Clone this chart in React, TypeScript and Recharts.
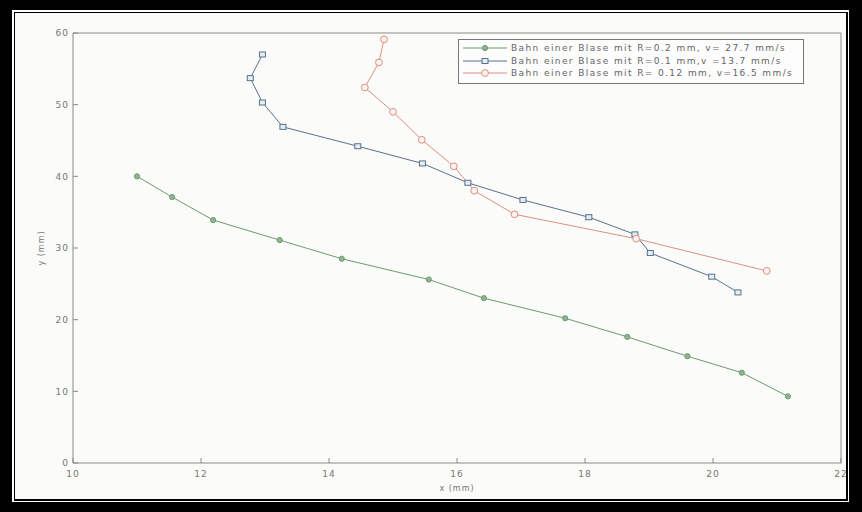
import React from "react";
import { Legend, Line, LineChart, XAxis, YAxis } from "recharts";

// bubble trajectories (x and y in mm)
const greenX = [11.0, 11.55, 12.19, 13.23, 14.2, 15.56, 16.42, 17.69, 18.66, 19.6, 20.45, 21.17];
const greenY = [40.0, 37.1, 33.9, 31.1, 28.5, 25.6, 23.0, 20.2, 17.6, 14.9, 12.6, 9.3];

const blueX = [12.96, 12.77, 12.96, 13.28, 14.45, 15.46, 16.17, 17.03, 18.06, 18.78, 19.02, 19.98, 20.39];
const blueY = [57.0, 53.7, 50.3, 46.9, 44.2, 41.8, 39.1, 36.7, 34.3, 31.9, 29.3, 26.0, 23.8];

const redX = [14.86, 14.78, 14.56, 15.0, 15.45, 15.95, 16.27, 16.9, 18.8, 20.84];
const redY = [59.1, 55.9, 52.4, 49.0, 45.1, 41.4, 38.0, 34.7, 31.3, 26.8];

const xTicks = [10, 12, 14, 16, 18, 20, 22];
const yTicks = [0, 10, 20, 30, 40, 50, 60];

const seriesNames = [
  "Bahn einer Blase mit R=0.2 mm, v= 27.7 mm/s",
  "Bahn einer Blase mit R=0.1 mm,v =13.7 mm/s",
  "Bahn einer Blase mit R= 0.12 mm, v=16.5 mm/s",
];

const GREEN = "#6f9a72";
const BLUE = "#57728c";
const RED = "#de8f80";
const AXIS = "#8a8a8a";
const FONT = "'DejaVu Sans', Arial, sans-serif";

const toPoints = (xs: number[], ys: number[]) => xs.map((x, i) => ({ x, y: ys[i] }));

const greenData = toPoints(greenX, greenY);
const blueData = toPoints(blueX, blueY);
const redData = toPoints(redX, redY);

type MarkerKind = "dot" | "square" | "circle";

function Marker({ cx, cy, kind, color }: { cx: number; cy: number; kind: MarkerKind; color: string }) {
  if (kind === "dot") {
    return <circle cx={cx} cy={cy} r={2.6} fill="#8fb48f" stroke={color} strokeWidth={1} />;
  }
  if (kind === "square") {
    return <rect x={cx - 3} y={cy - 2.5} width={6} height={5} fill="#e6edf2" stroke={color} strokeWidth={1} />;
  }
  return <circle cx={cx} cy={cy} r={3.4} fill="#fbf3f1" stroke={color} strokeWidth={1} />;
}

const makeDot = (kind: MarkerKind, color: string) => (props: any) => {
  const { cx, cy, index } = props;
  if (cx == null || cy == null) return <g key={index} />;
  return <Marker key={index} cx={cx} cy={cy} kind={kind} color={color} />;
};

const legendRows: { color: string; kind: MarkerKind }[] = [
  { color: GREEN, kind: "dot" },
  { color: BLUE, kind: "square" },
  { color: RED, kind: "circle" },
];

function LegendBox() {
  return (
    <div
      style={{
        border: "1px solid #777",
        background: "#fdfdfd",
        padding: "2px 0 3px 0",
        fontFamily: FONT,
        fontSize: 9,
        color: "#666",
        letterSpacing: 1.4,
      }}
    >
      {seriesNames.map((name, i) => (
        <div key={name} style={{ display: "flex", alignItems: "center", height: 12.5 }}>
          <svg width={52} height={12} style={{ flex: "none" }}>
            <line x1={4} x2={48} y1={6} y2={6} stroke={legendRows[i].color} strokeWidth={1} />
            <Marker cx={26} cy={6} kind={legendRows[i].kind} color={legendRows[i].color} />
          </svg>
          <span style={{ whiteSpace: "nowrap" }}>{name}</span>
        </div>
      ))}
    </div>
  );
}

const tickStyle = { fill: "#777", fontSize: 9, fontFamily: FONT, letterSpacing: 1 };

export default function App() {
  return (
    <div style={{ position: "absolute", left: 0, top: 0, width: 862, height: 512, background: "#000" }}>
      <div style={{ position: "absolute", left: 12, top: 10, width: 837, height: 492, background: "#fff" }}>
        <div style={{ position: "absolute", left: 1.5, top: 1.5, right: 1.5, bottom: 1.5, background: "#000" }}>
          <div style={{ position: "absolute", left: 1.5, top: 1.5, right: 1.5, bottom: 1.5, background: "#fbfbf9" }} />
        </div>
      </div>
      <div style={{ position: "absolute", left: 0, top: 0 }}>
        <LineChart width={862} height={512} margin={{ top: 32, right: 20, left: 43, bottom: 19 }}>
          <XAxis
            xAxisId="bottom"
            dataKey="x"
            type="number"
            domain={[10, 22]}
            ticks={xTicks}
            allowDataOverflow
            height={30}
            stroke={AXIS}
            tickSize={-5}
            tickMargin={13}
            tick={tickStyle}
            label={{ value: "x (mm)", position: "insideBottom", offset: 2, fill: "#777", fontSize: 8, fontFamily: FONT, letterSpacing: 1 }}
          />
          <XAxis
            xAxisId="top"
            orientation="top"
            type="number"
            domain={[10, 22]}
            ticks={xTicks}
            allowDataOverflow
            height={1}
            stroke={AXIS}
            tickSize={-5}
            tick={false}
          />
          <YAxis
            yAxisId="left"
            dataKey="y"
            type="number"
            domain={[0, 60]}
            ticks={yTicks}
            allowDataOverflow
            width={30}
            stroke={AXIS}
            tickSize={-5}
            tickMargin={9}
            tick={tickStyle}
            label={{ value: "y (mm)", angle: -90, position: "insideLeft", offset: -2, fill: "#777", fontSize: 8, fontFamily: FONT, letterSpacing: 1, style: { textAnchor: "middle" } }}
          />
          <YAxis
            yAxisId="right"
            orientation="right"
            type="number"
            domain={[0, 60]}
            ticks={yTicks}
            allowDataOverflow
            width={1}
            stroke={AXIS}
            tickSize={-5}
            tick={false}
          />
          <Legend
            layout="horizontal"
            verticalAlign="middle"
            align="center"
            content={() => <LegendBox />}
            wrapperStyle={{ position: "absolute", left: 458, top: 39, width: 346 }}
          />
          <Line
            xAxisId="bottom"
            yAxisId="left"
            data={greenData}
            dataKey="y"
            name={seriesNames[0]}
            stroke={GREEN}
            strokeWidth={1}
            dot={makeDot("dot", GREEN)}
            isAnimationActive={false}
          />
          <Line
            xAxisId="bottom"
            yAxisId="left"
            data={blueData}
            dataKey="y"
            name={seriesNames[1]}
            stroke={BLUE}
            strokeWidth={1}
            dot={makeDot("square", BLUE)}
            isAnimationActive={false}
          />
          <Line
            xAxisId="bottom"
            yAxisId="left"
            data={redData}
            dataKey="y"
            name={seriesNames[2]}
            stroke={RED}
            strokeWidth={1}
            dot={makeDot("circle", RED)}
            isAnimationActive={false}
          />
        </LineChart>
      </div>
    </div>
  );
}
